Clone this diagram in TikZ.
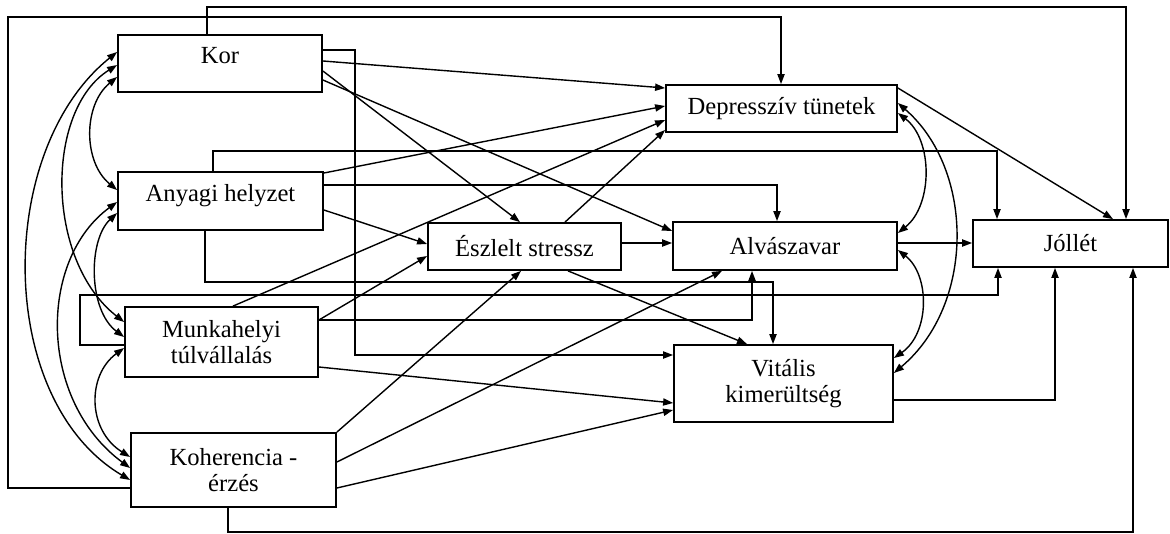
\documentclass[tikz,border=0pt]{standalone}
\usepackage{fontspec}
\setmainfont{Liberation Serif}
\usetikzlibrary{arrows.meta}
\begin{document}
\begin{tikzpicture}[x=0.5pt,y=-0.5pt,
  box/.style={draw, line width=0.9pt, inner sep=1pt, font=\fontsize{12.3}{13}\selectfont},
  twoline/.style={box, align=center},
  wire/.style={line width=0.7pt},
  conn/.style={wire, -{Triangle[length=5pt,width=3.6pt]}},
  both/.style={wire, {Triangle[length=5pt,width=3.6pt]}-{Triangle[length=5pt,width=3.6pt]}}]
\useasboundingbox (0,0) rectangle (1170,534);

% variables
\node[box, minimum width=102pt, minimum height=28.5pt] (kor) at (220,63.5) {\raisebox{0pt}[0pt][0pt]{Kor}};
\node[box, minimum width=102.5pt, minimum height=29pt] (any) at (220.5,201) {\raisebox{0pt}[0pt][0pt]{Anyagi helyzet}};
\node[twoline, minimum width=96.5pt, minimum height=35pt] (mun) at (221.5,342) {Munkahelyi\\túlvállalás};
\node[twoline, minimum width=102.5pt, minimum height=37pt] (koh) at (233.5,470) {Koherencia -\\érzés};
\node[box, minimum width=96.5pt, minimum height=23.5pt] (esz) at (524.5,246.5) {Észlelt stressz};
\node[box, minimum width=115.5pt, minimum height=23.5pt] (dep) at (781.5,108.5) {Depresszív tünetek};
\node[box, minimum width=112pt, minimum height=24pt] (alv) at (785,246) {Alvászavar};
\node[box, minimum width=97.5pt, minimum height=23.5pt] (jol) at (1070.5,243.5) {Jóllét};
\node[twoline, minimum width=109.5pt, minimum height=38.5pt] (vit) at (783.5,383.5) {Vitális\\kimerültség};

% routed paths around the boxes
\draw[conn] (kor.north -| 207,0) |- (1126,7) -- (jol.north -| 1126,0);
\draw[conn] (koh.west |- 0,488) -| (8,17) -| (dep.north -| 781,0);
\draw[conn] (kor.east |- 0,50) -| (355,355) -- (vit.west |- 0,355);
\draw[conn] (any.north -| 213,0) |- (997,151) -- (jol.north -| 997,0);
\draw[conn] (any.east |- 0,185) -| (alv.north -| 777,0);
\draw[conn] (any.south -| 205,0) |- (773,282) -- (vit.north -| 773,0);
\draw[conn] (mun.east |- 0,320) -| (alv.south -| 752,0);
\draw[conn] (mun.west |- 0,345) -| (80,295) -| (jol.south -| 998,0);
\draw[conn] (koh.south -| 228,0) |- (1133,532) -- (jol.south -| 1133,0);
\draw[conn] (vit.east |- 0,400) -| (jol.south -| 1055,0);

% straight paths
\draw[conn] (kor.east |- 0,61) -- (dep.west |- 0,88);
\draw[conn] (kor.east |- 0,71) -- (esz.north -| 520,0);
\draw[conn] (kor.east |- 0,80) -- (alv.west |- 0,231);
\draw[conn] (any.east |- 0,173) -- (dep.west |- 0,106);
\draw[conn] (any.east |- 0,210) -- (esz.west |- 0,244);
\draw[conn] (mun.north -| 233,0) -- (dep.west |- 0,120);
\draw[conn] (mun.east |- 0,320) -- (esz.west |- 0,256);
\draw[conn] (mun.east |- 0,367) -- (vit.west |- 0,403);
\draw[conn] (koh.north east) -- (esz.south -| 521,0);
\draw[conn] (koh.east |- 0,462) -- (alv.south -| 722,0);
\draw[conn] (koh.east |- 0,488) -- (vit.west |- 0,410);
\draw[conn] (esz.north -| 565,0) -- (dep.west |- 0,130);
\draw[conn] (esz.east |- 0,243) -- (alv.west |- 0,243);
\draw[conn] (esz.south -| 568,0) -- (vit.north -| 747,0);
\draw[conn] (dep.east |- 0,88) -- (jol.north -| 1113,0);
\draw[conn] (alv.east |- 0,243) -- (jol.west |- 0,243);

% correlations, left side
\draw[both] (kor.west |- 0,77) .. controls (83,105) and (83,162) .. (any.west |- 0,190);
\draw[both] (kor.west |- 0,65) .. controls (45,110) and (45,260) .. (mun.west |- 0,322);
\draw[both] (kor.west |- 0,52) .. controls (-5,150) and (-5,400) .. (koh.west |- 0,480);
\draw[both] (any.west |- 0,202) .. controls (38,260) and (38,400) .. (koh.west |- 0,468);
\draw[both] (any.west |- 0,213) .. controls (88,240) and (88,310) .. (mun.west |- 0,337);
\draw[both] (mun.west |- 0,348) .. controls (87,375) and (87,430) .. (koh.west |- 0,457);

% correlations, right side
\draw[both] (dep.east |- 0,113) .. controls (933,140) and (933,205) .. (alv.east |- 0,233);
\draw[both] (dep.east |- 0,103) .. controls (975,170) and (975,305) .. (vit.east |- 0,373);
\draw[both] (alv.east |- 0,250) .. controls (930,275) and (930,333) .. (vit.east |- 0,358);
\end{tikzpicture}
\end{document}
